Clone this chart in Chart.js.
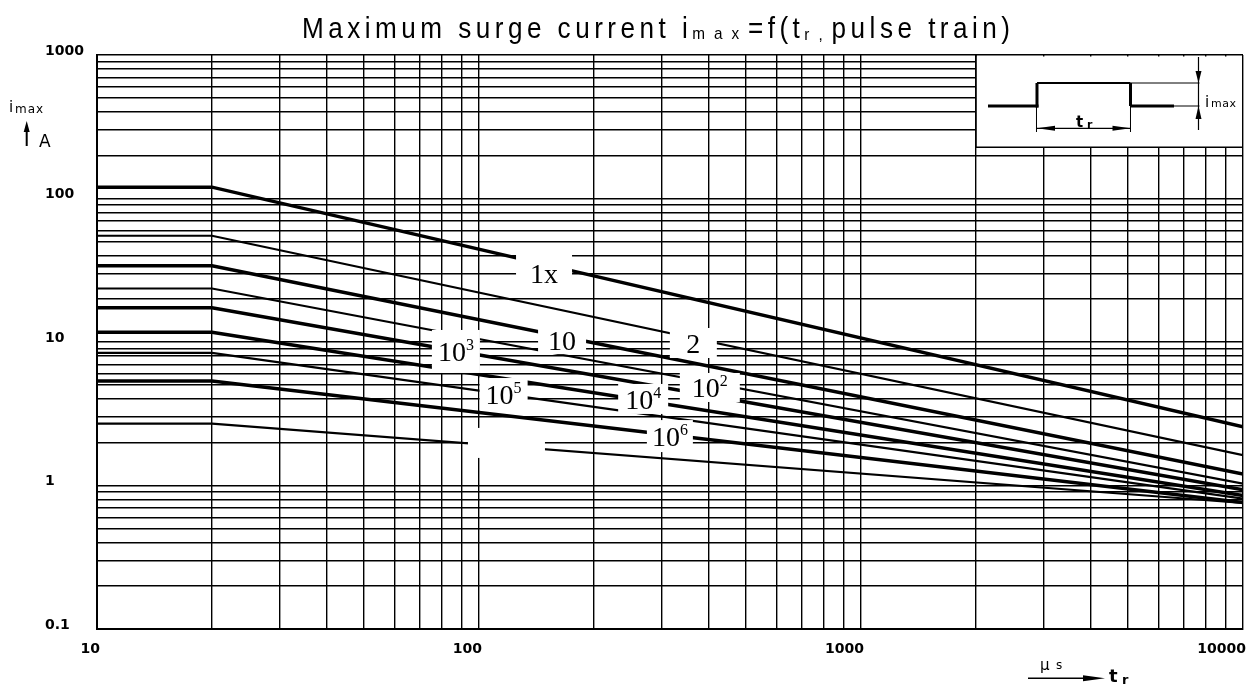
<!DOCTYPE html>
<html><head><meta charset="utf-8">
<script src="https://cdn.jsdelivr.net/npm/chart.js@4/dist/chart.umd.min.js"></script>
<style>html,body{margin:0;padding:0;background:#fff;}#wrap{width:1260px;height:688px;}</style>
</head><body><div id="wrap"><canvas id="c" width="1260" height="688"></canvas></div>
<script>
// ---------------- data ----------------
const pulseTimes = [10, 20, 10000];                 // t_r [µs]: plateau start, knee, end of axis
const curveNames = ['1x', '2', '10', '10^2', '10^3', '10^4', '10^5', '10^6', '10^7'];
const iPlateau   = [120, 55, 34, 23.6, 17.3, 11.7, 8.4, 5.35, 2.7];    // i_max [A] for t_r <= 20 µs
const iAt10000   = [2.56, 1.63, 1.2, 1.03, 0.935, 0.85, 0.81, 0.76, 0.755]; // i_max [A] at 10000 µs

const xTickValues = [10,20,30,40,50,60,70,80,90,100,200,300,400,500,600,700,800,900,
                     1000,2000,3000,4000,5000,6000,7000,8000,9000,10000];
const xLabelValues = [10, 100, 1000, 10000];
const xTickLabels  = ['10', '100', '1000', '10000'];
const yTickValues = [0.1,0.2,0.3,0.4,0.5,0.6,0.7,0.8,0.9,1,2,3,4,5,6,7,8,9,
                     10,20,30,40,50,60,70,80,90,100,200,300,400,500,600,700,800,900,1000];
const yLabelValues = [0.1, 1, 10, 100, 1000];
const yTickLabels  = ['0.1', '1', '10', '100', '1000'];

// curve labels: text, superscript, anchor in data units (t, i)
const labelTexts = ['1x', '2', '10', '10', '10', '10', '10', '10', ''];
const labelSups  = ['', '', '', '2', '3', '4', '5', '6', ''];
const labelT     = [148, 364, 165, 402, 87, 269, 116, 316, 118];
const labelI     = [30.3, 9.84, 10.3, 4.82, 8.59, 4.01, 4.34, 2.21, 1.98];

// ---------------- styles ----------------
const curveWidths = [3.5, 2.2, 3.5, 2.2, 3.5, 3.5, 2.2, 3.5, 2.2];
const labelBox = [[56,38],[47,30],[48,28],[60,29],[48,43],[50,30],[48,32],[46,32],[77,30]];
const GRID_W = 1.4;

const datasets = curveNames.map((name, k) => ({
  label: name,
  data: [
    {x: pulseTimes[0], y: iPlateau[k]},
    {x: pulseTimes[1], y: iPlateau[k]},
    {x: pulseTimes[2], y: iAt10000[k]}
  ],
  borderColor: '#000',
  borderWidth: curveWidths[k],
  pointRadius: 0,
  tension: 0,
  fill: false,
  borderCapStyle: 'butt'
}));

function spacedText(ctx, text, x, y, spacing, sx) {
  for (const ch of text) {
    ctx.save(); ctx.translate(x, y); ctx.scale(sx, 1); ctx.fillText(ch, 0, 0); ctx.restore();
    x += ctx.measureText(ch).width * sx + spacing;
  }
  return x;
}
function arrowHead(ctx, tx, ty, dir, len, half) {
  ctx.beginPath();
  if (dir === 'up')    { ctx.moveTo(tx, ty); ctx.lineTo(tx - half, ty + len); ctx.lineTo(tx + half, ty + len); }
  if (dir === 'down')  { ctx.moveTo(tx, ty); ctx.lineTo(tx - half, ty - len); ctx.lineTo(tx + half, ty - len); }
  if (dir === 'left')  { ctx.moveTo(tx, ty); ctx.lineTo(tx + len, ty - half); ctx.lineTo(tx + len, ty + half); }
  if (dir === 'right') { ctx.moveTo(tx, ty); ctx.lineTo(tx - len, ty - half); ctx.lineTo(tx - len, ty + half); }
  ctx.closePath(); ctx.fill();
}
function line(ctx, x1, y1, x2, y2, w) {
  ctx.lineWidth = w; ctx.beginPath(); ctx.moveTo(x1, y1); ctx.lineTo(x2, y2); ctx.stroke();
}

const decor = {
  id: 'decor',
  afterDatasetsDraw(chart) {
    const {ctx, chartArea: a, scales: {x, y}} = chart;
    ctx.save();
    ctx.fillStyle = '#000'; ctx.strokeStyle = '#000';
    ctx.textAlign = 'left'; ctx.textBaseline = 'alphabetic';
    // curve labels with white boxes
    labelTexts.forEach((txt, k) => {
      const cx = x.getPixelForValue(labelT[k]), cy = y.getPixelForValue(labelI[k]);
      const [w, h] = labelBox[k];
      ctx.fillStyle = '#fff'; ctx.fillRect(cx - w / 2, cy - h / 2, w, h);
      if (!txt) return;
      ctx.fillStyle = '#000';
      ctx.font = '28px "Liberation Serif"';
      const bw = ctx.measureText(txt).width;
      ctx.font = '16px "Liberation Serif"';
      const sw = labelSups[k] ? ctx.measureText(labelSups[k]).width : 0;
      const tx = cx - (bw + sw) / 2;
      ctx.font = '28px "Liberation Serif"'; ctx.fillText(txt, tx, cy + 10);
      if (labelSups[k]) { ctx.font = '16px "Liberation Serif"'; ctx.fillText(labelSups[k], tx + bw, cy - 1); }
    });
    // inset box (pulse shape)
    const ix0 = x.getPixelForValue(2000), iy1 = y.getPixelForValue(200) - 8;
    ctx.fillStyle = '#fff';
    ctx.fillRect(ix0, a.top + 1.5, a.right - ix0 - 1, iy1 - a.top - 1.5);
    ctx.fillStyle = '#000';
    line(ctx, ix0, a.top, ix0, iy1, 1.6);
    line(ctx, ix0, iy1, a.right, iy1, 1.6);
    const bx = ix0, by = a.top;
    const yb = by + 51, yt = by + 28, xr = bx + 61, xf = bx + 154.5, xd = bx + 222.5;
    ctx.lineCap = 'butt';
    line(ctx, bx + 12, yb, xr + 1.5, yb, 3);
    line(ctx, xr, yb + 1.5, xr, yt, 3);
    line(ctx, xr, yt, xf, yt, 2.2);
    line(ctx, xf, yt, xf, yb, 3);
    line(ctx, xf, yb, bx + 198, yb, 3);
    line(ctx, bx + 198, yb, xd + 1, yb, 1);
    line(ctx, xf, yt, xd + 1, yt, 1);
    line(ctx, xd, by + 2, xd, by + 75, 1.2);
    arrowHead(ctx, xd, yt, 'down', 12, 3);
    arrowHead(ctx, xd, yb, 'up', 13, 3);
    line(ctx, xr - 0.5, yb, xr - 0.5, by + 77, 1);
    line(ctx, xf, yb, xf, by + 77, 1);
    line(ctx, xr, by + 73.3, xf, by + 73.3, 1.2);
    arrowHead(ctx, xr, by + 73.3, 'left', 18, 2.5);
    arrowHead(ctx, xf, by + 73.3, 'right', 18, 2.5);
    ctx.font = '15px "DejaVu Sans"'; ctx.fillText('i', bx + 229, by + 52);
    ctx.font = '11px "DejaVu Sans"'; spacedText(ctx, 'max', bx + 235, by + 52, 0.5, 1);
    ctx.font = 'bold 15px "DejaVu Sans"'; ctx.fillText('t', bx + 100, by + 72);
    ctx.font = 'bold 11px "DejaVu Sans"'; ctx.fillText('r', bx + 111, by + 73);
    ctx.restore();
  },
  afterDraw(chart) {
    const {ctx} = chart;
    ctx.save();
    ctx.fillStyle = '#000'; ctx.strokeStyle = '#000';
    ctx.textAlign = 'left'; ctx.textBaseline = 'alphabetic';
    // ----- title -----
    const segs = [
      {t: 'Maximum surge current i', f: '29px "Liberation Sans"', dy: 0, small: false},
      {t: 'max', f: '17px "Liberation Sans"', dy: 1, small: true},
      {t: '=f(t', f: '29px "Liberation Sans"', dy: 0, small: false},
      {t: 'r,', f: '17px "Liberation Sans"', dy: 2, small: true},
      {t: 'pulse train)', f: '29px "Liberation Sans"', dy: 0, small: false}
    ];
    const sx = 0.9, x0 = 302, x1 = 1010, base = 38;
    let nat = 0, nBig = 0, nSmall = 0;
    segs.forEach(s => { ctx.font = s.f; for (const ch of s.t) { nat += ctx.measureText(ch).width * sx; if (s.small) nSmall++; else nBig++; } });
    // small glyphs get double spacing
    const sp = (x1 - x0 - nat) / (nBig + 2 * nSmall - 1);
    let cx = x0;
    segs.forEach(s => { ctx.font = s.f; cx = spacedText(ctx, s.t, cx, base + s.dy, s.small ? sp * 2 : sp, sx); });
    // ----- y axis title: i_max, arrow, A -----
    ctx.font = '15px "DejaVu Sans"'; ctx.fillText('i', 9, 112);
    ctx.font = '12px "DejaVu Sans"'; spacedText(ctx, 'max', 15, 113, 1, 1);
    ctx.lineCap = 'butt';
    line(ctx, 26.7, 146, 26.7, 128, 2);
    arrowHead(ctx, 26.7, 121, 'up', 11, 3);
    ctx.font = '17px "DejaVu Sans"'; ctx.fillText('A', 39, 147);
    // ----- x axis title: µs --> t_r -----
    ctx.font = '15px "DejaVu Sans"'; ctx.fillText('µ', 1040, 670);
    ctx.font = '12px "DejaVu Sans"'; ctx.fillText('s', 1056, 669);
    line(ctx, 1028, 678.3, 1088, 678.3, 1.5);
    arrowHead(ctx, 1105, 678.3, 'right', 22, 3);
    ctx.font = 'bold 18px "DejaVu Sans"'; ctx.fillText('t', 1109, 682);
    ctx.font = 'bold 13px "DejaVu Sans"'; ctx.fillText('r', 1122, 684);
    ctx.restore();
  }
};

const tickFont = {family: '"DejaVu Sans"', size: 14, weight: 'bold'};

new Chart(document.getElementById('c'), {
  type: 'line',
  data: {datasets},
  options: {
    responsive: false,
    animation: false,
    devicePixelRatio: 1,
    layout: {padding: {left: 45, right: 17, top: 55, bottom: 0}},
    plugins: {legend: {display: false}, title: {display: false}, tooltip: {enabled: false}},
    scales: {
      x: {
        type: 'logarithmic', position: 'bottom', min: 10, max: 10000,
        afterBuildTicks: s => { s.ticks = xTickValues.map(v => ({value: v})); },
        afterFit: s => { s.height = 59; },
        grid: {color: '#000', lineWidth: GRID_W, drawTicks: false},
        border: {display: true, color: '#000', width: 2},
        ticks: {
          autoSkip: false, maxRotation: 0, minRotation: 0, align: 'end', padding: 12, labelOffset: 3,
          color: '#000', font: tickFont,
          callback: v => { const i = xLabelValues.indexOf(v); return i >= 0 ? xTickLabels[i] : ''; }
        }
      },
      y: {
        type: 'logarithmic', position: 'left', min: 0.1, max: 1000,
        afterBuildTicks: s => { s.ticks = yTickValues.map(v => ({value: v})); },
        afterFit: s => { s.width = 52; },
        grid: {color: '#000', lineWidth: GRID_W, drawTicks: false},
        border: {display: true, color: '#000', width: 2},
        ticks: {
          autoSkip: false, crossAlign: 'far', labelOffset: -4, padding: 8,
          color: '#000', font: tickFont,
          callback: v => { const i = yLabelValues.indexOf(v); return i >= 0 ? yTickLabels[i] : ''; }
        }
      }
    }
  },
  plugins: [decor]
});
</script></body></html>
